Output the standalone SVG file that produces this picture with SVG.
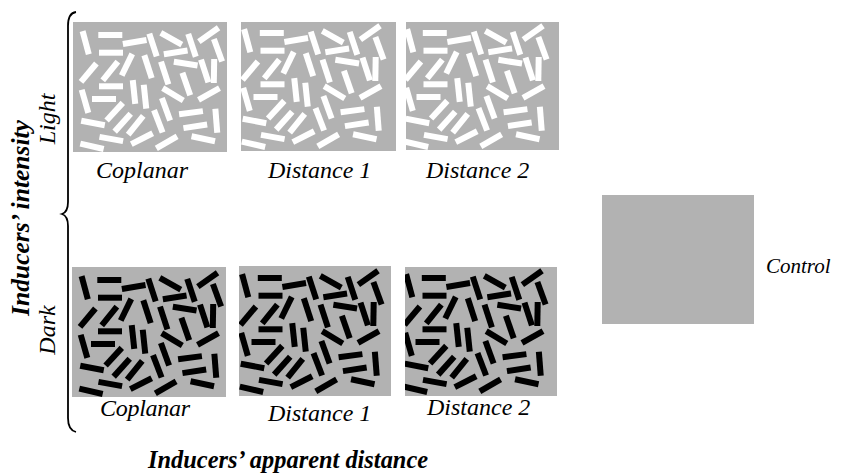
<svg xmlns="http://www.w3.org/2000/svg" xmlns:xlink="http://www.w3.org/1999/xlink" width="841" height="476" viewBox="0 0 841 476">
<style>
.panel{fill:#b2b2b2}
.lbl{font-family:"Liberation Serif","Times New Roman",serif;font-style:italic;font-size:24px;fill:#000}
.ttl{font-family:"Liberation Serif","Times New Roman",serif;font-style:italic;font-weight:bold;font-size:24.4px;fill:#000}
.brace{fill:none;stroke:#000;stroke-width:1.8}
</style>
<defs>
<rect id="b" x="-12" y="-3" width="24" height="6"/>
<g id="bars">
<use xlink:href="#b" transform="translate(12.7 20.7) rotate(75)"/>
<use xlink:href="#b" transform="translate(37.3 13) rotate(0)"/>
<use xlink:href="#b" transform="translate(38 30.7) rotate(0)"/>
<use xlink:href="#b" transform="translate(61.7 20) rotate(-9.6)"/>
<use xlink:href="#b" transform="translate(80 23) rotate(72)"/>
<use xlink:href="#b" transform="translate(98.3 16.7) rotate(29)"/>
<use xlink:href="#b" transform="translate(119 23.3) rotate(71.6)"/>
<use xlink:href="#b" transform="translate(135.7 12.7) rotate(-35)"/>
<use xlink:href="#b" transform="translate(145 28.3) rotate(70)"/>
<use xlink:href="#b" transform="translate(102.7 30.3) rotate(-9)"/>
<use xlink:href="#b" transform="translate(15.7 50.7) rotate(-50)"/>
<use xlink:href="#b" transform="translate(37.3 49) rotate(-51)"/>
<use xlink:href="#b" transform="translate(54 42.7) rotate(-64)"/>
<use xlink:href="#b" transform="translate(75 44.7) rotate(72)"/>
<use xlink:href="#b" transform="translate(91.7 51) rotate(72)"/>
<use xlink:href="#b" transform="translate(112.7 41.7) rotate(9)"/>
<use xlink:href="#b" transform="translate(131.7 49) rotate(72)"/>
<use xlink:href="#b" transform="translate(141 49) rotate(91)"/>
<use xlink:href="#b" transform="translate(113.3 62) rotate(71)"/>
<use xlink:href="#b" transform="translate(38 64.3) rotate(0)"/>
<use xlink:href="#b" transform="translate(61 70) rotate(84)"/>
<use xlink:href="#b" transform="translate(72 74.7) rotate(84)"/>
<use xlink:href="#b" transform="translate(100 72.3) rotate(31)"/>
<use xlink:href="#b" transform="translate(136 72) rotate(-29)"/>
<use xlink:href="#b" transform="translate(12 79.3) rotate(74)"/>
<use xlink:href="#b" transform="translate(31 77) rotate(0)"/>
<use xlink:href="#b" transform="translate(41.7 89.7) rotate(-47.5)"/>
<use xlink:href="#b" transform="translate(93 87.3) rotate(70)"/>
<use xlink:href="#b" transform="translate(85.3 99.3) rotate(69)"/>
<use xlink:href="#b" transform="translate(118 90.7) rotate(-7.5)"/>
<use xlink:href="#b" transform="translate(143.3 98.7) rotate(85.5)"/>
<use xlink:href="#b" transform="translate(49.7 100.7) rotate(-48)"/>
<use xlink:href="#b" transform="translate(62.7 103.3) rotate(-51)"/>
<use xlink:href="#b" transform="translate(20 101) rotate(11)"/>
<use xlink:href="#b" transform="translate(122.3 104.3) rotate(-8.7)"/>
<use xlink:href="#b" transform="translate(69 116.7) rotate(-27)"/>
<use xlink:href="#b" transform="translate(38.3 117) rotate(10)"/>
<use xlink:href="#b" transform="translate(93.7 120.3) rotate(-30)"/>
<use xlink:href="#b" transform="translate(130.3 116.7) rotate(12)"/>
<use xlink:href="#b" transform="translate(19 124.3) rotate(13)"/>
</g>
<clipPath id="cP1"><rect x="73" y="22" width="154" height="130"/></clipPath>
<clipPath id="cP2"><rect x="241" y="22" width="155" height="129"/></clipPath>
<clipPath id="cP3"><rect x="406" y="22" width="153" height="128"/></clipPath>
<clipPath id="cQ1"><rect x="72" y="267" width="154" height="130"/></clipPath>
<clipPath id="cQ2"><rect x="239" y="266" width="152" height="130"/></clipPath>
<clipPath id="cQ3"><rect x="405" y="267" width="152" height="129"/></clipPath>
</defs>

<g id="light-coplanar">
<rect class="panel" x="73" y="22" width="154" height="130"/>
<g clip-path="url(#cP1)"><use xlink:href="#bars" fill="#fff" transform="translate(73 22)"/></g>
<text class="lbl" x="96" y="178">Coplanar</text>
</g>
<g id="light-distance1">
<rect class="panel" x="241" y="22" width="155" height="129"/>
<g clip-path="url(#cP2)"><use xlink:href="#bars" fill="#fff" transform="translate(234.5 20)"/></g>
<text class="lbl" x="268" y="178">Distance 1</text>
</g>
<g id="light-distance2">
<rect class="panel" x="406" y="22" width="153" height="128"/>
<g clip-path="url(#cP3)"><use xlink:href="#bars" fill="#fff" transform="translate(397.5 20)"/></g>
<text class="lbl" x="426" y="178">Distance 2</text>
</g>

<g id="dark-coplanar">
<rect class="panel" x="72" y="267" width="154" height="130"/>
<g clip-path="url(#cQ1)"><use xlink:href="#bars" fill="#000" transform="translate(72 267)"/></g>
<text class="lbl" x="100" y="416" textLength="90">Coplanar</text>
</g>
<g id="dark-distance1">
<rect class="panel" x="239" y="266" width="152" height="130"/>
<g clip-path="url(#cQ2)"><use xlink:href="#bars" fill="#000" transform="translate(232.5 265)"/></g>
<text class="lbl" x="268" y="421">Distance 1</text>
</g>
<g id="dark-distance2">
<rect class="panel" x="405" y="267" width="152" height="129"/>
<g clip-path="url(#cQ3)"><use xlink:href="#bars" fill="#000" transform="translate(396.5 265)"/></g>
<text class="lbl" x="427" y="415">Distance 2</text>
</g>

<g id="control">
<rect class="panel" x="602" y="195" width="152" height="129"/>
<text class="lbl" x="766" y="273" style="font-size:21px">Control</text>
</g>

<g id="connectors">
<path class="brace" d="M 76 12 Q 68 13 68 26 L 68 202 Q 68 212 62 214 Q 68 216 68 226 L 68 418 Q 68 430 76 432"/>
</g>

<g id="axis-labels">
<text class="ttl" transform="translate(29 218) rotate(-90)" text-anchor="middle" style="font-size:25.5px">Inducers’ intensity</text>
<text class="lbl" transform="translate(55 119) rotate(-90)" text-anchor="middle">Light</text>
<text class="lbl" transform="translate(55 330) rotate(-90)" text-anchor="middle">Dark</text>
<text class="ttl" x="148" y="468">Inducers’ apparent distance</text>
</g>
</svg>
